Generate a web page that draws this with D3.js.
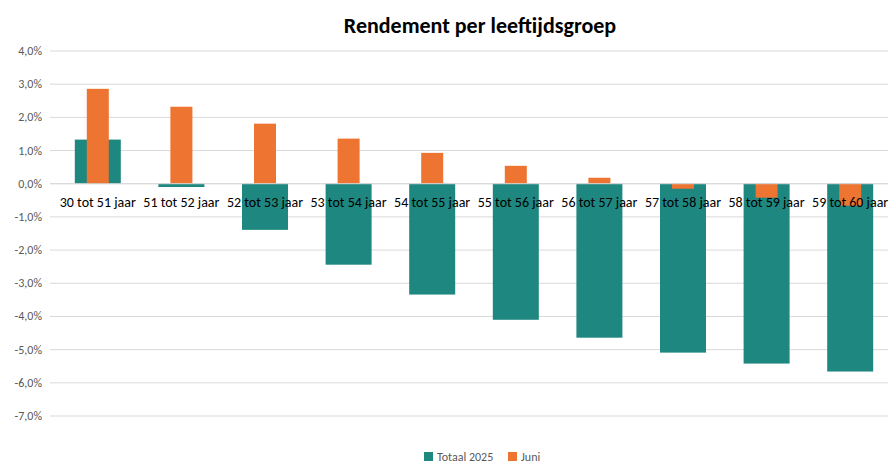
<!DOCTYPE html>
<html><head><meta charset="utf-8">
<script src="https://cdn.jsdelivr.net/npm/d3@7"></script>
<style>body{margin:0;background:#fff}text{font-family:Calibri,Carlito,"Liberation Sans",Arial,sans-serif}</style>
</head><body><svg id="c" width="890" height="469"></svg>
<script>
const categories=["30 tot 51 jaar","51 tot 52 jaar","52 tot 53 jaar","53 tot 54 jaar","54 tot 55 jaar","55 tot 56 jaar","56 tot 57 jaar","57 tot 58 jaar","58 tot 59 jaar","59 tot 60 jaar"];
const totaal=[1.33,-0.10,-1.39,-2.44,-3.34,-4.10,-4.64,-5.09,-5.42,-5.66];
const juni=[2.86,2.32,1.81,1.36,0.93,0.54,0.18,-0.15,-0.42,-0.66];
const yTicks=[4,3,2,1,0,-1,-2,-3,-4,-5,-6,-7];
const svg=d3.select("#c");
const x=d3.scaleBand().domain(categories).range([56,892]);
const y=d3.scaleLinear().domain([-7,4]).range([416,51]);
const fmt=v=>v.toFixed(1).replace(".",",")+"%";
svg.append("text").attr("x",480).attr("y",33).attr("text-anchor","middle").attr("font-size",22).attr("font-weight","bold").text("Rendement per leeftijdsgroep");
yTicks.forEach(t=>{
 svg.append("line").attr("x1",50).attr("x2",888).attr("y1",y(t)).attr("y2",y(t)).attr("stroke","#d9d9d9");
 svg.append("text").attr("x",42).attr("y",y(t)+4).attr("text-anchor","end").attr("font-size",12).attr("fill","#595959").text(fmt(t));
});
const c=d=>x(d)+x.bandwidth()/2;
svg.selectAll(".t").data(categories).join("rect").attr("x",d=>c(d)-23).attr("width",46)
 .attr("y",(d,i)=>y(Math.max(0,totaal[i]))).attr("height",(d,i)=>Math.abs(y(totaal[i])-y(0))).attr("fill","#1e8780");
svg.selectAll(".j").data(categories).join("rect").attr("x",d=>c(d)-11).attr("width",22)
 .attr("y",(d,i)=>y(Math.max(0,juni[i]))).attr("height",(d,i)=>Math.abs(y(juni[i])-y(0))).attr("fill","#ed7431");
svg.append("line").attr("x1",50).attr("x2",888).attr("y1",y(0)).attr("y2",y(0)).attr("stroke","#d9d9d9");
svg.selectAll(".l").data(categories).join("text").attr("x",d=>c(d)).attr("y",y(0)+23).attr("text-anchor","middle").attr("font-size",14).attr("fill","#000").text(d=>d);
const lg=svg.append("g").attr("transform","translate(0,461)");
lg.append("rect").attr("x",424).attr("y",-9).attr("width",9).attr("height",9).attr("fill","#1e8780");
lg.append("text").attr("x",437).attr("y",0).attr("font-size",12).attr("fill","#595959").text("Totaal 2025");
lg.append("rect").attr("x",508).attr("y",-9).attr("width",9).attr("height",9).attr("fill","#ed7431");
lg.append("text").attr("x",521).attr("y",0).attr("font-size",12).attr("fill","#595959").text("Juni");
</script></body></html>
